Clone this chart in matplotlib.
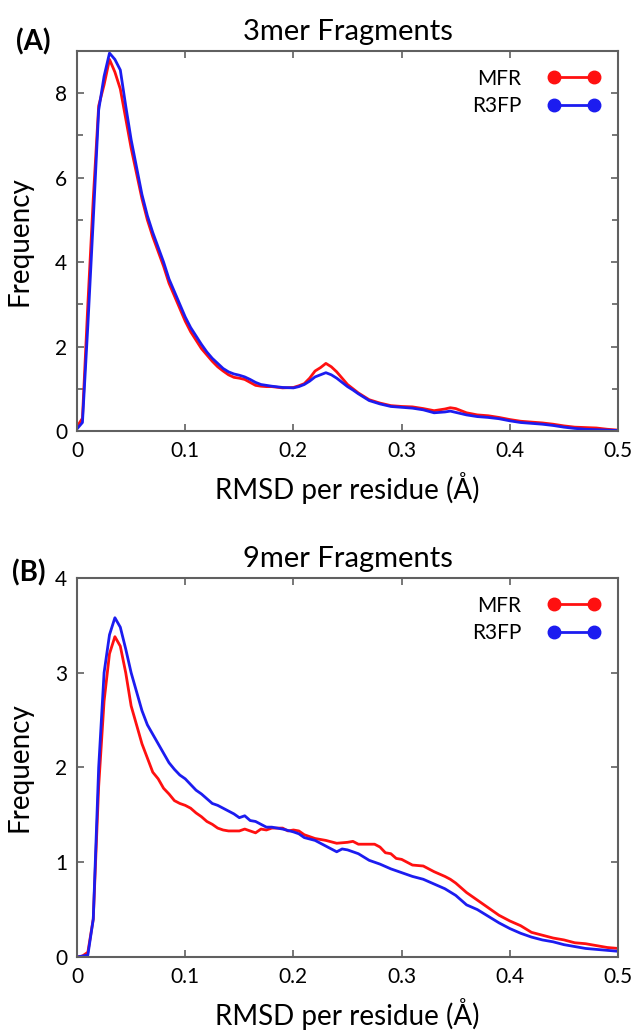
import matplotlib.pyplot as plt
import matplotlib as mpl
import numpy as np

# %% data
x_a_mfr = [0, .005, .01, .015, .02, .025, .03, .035, .04, .045, .05, .055, .06, .065, .07,
           .075, .08, .085, .09, .095, .1, .105, .11, .115, .12, .125, .13, .135, .14, .145,
           .15, .155, .16, .165, .17, .175, .18, .19, .2, .205, .21, .215, .22, .225, .23,
           .235, .24, .245, .25, .255, .26, .265, .27, .28, .29, .3, .31, .32, .33, .34,
           .345, .35, .36, .37, .38, .39, .4, .41, .42, .43, .44, .45, .46, .47, .48, .49, .5]
y_a_mfr = [0.1, 0.3, 3.0, 5.5, 7.7, 8.2, 8.8, 8.5, 8.1, 7.4, 6.7, 6.1, 5.5, 5.0, 4.6,
           4.25, 3.9, 3.5, 3.2, 2.9, 2.6, 2.35, 2.15, 1.95, 1.8, 1.65, 1.52, 1.42, 1.33, 1.27,
           1.25, 1.22, 1.15, 1.08, 1.06, 1.05, 1.05, 1.02, 1.03, 1.07, 1.12, 1.25, 1.42, 1.5, 1.6,
           1.52, 1.4, 1.25, 1.1, 1.0, 0.9, 0.82, 0.74, 0.66, 0.6, 0.58, 0.57, 0.53, 0.48, 0.52,
           0.55, 0.53, 0.43, 0.38, 0.36, 0.32, 0.27, 0.23, 0.21, 0.19, 0.16, 0.12, 0.09, 0.08, 0.07, 0.04, 0.02]

x_a_r3fp = [0, .005, .01, .015, .02, .025, .03, .035, .04, .045, .05, .055, .06, .065, .07,
            .075, .08, .085, .09, .095, .1, .105, .11, .115, .12, .125, .13, .135, .14, .145,
            .15, .155, .16, .165, .17, .18, .19, .2, .205, .21, .215, .22, .225, .23,
            .235, .24, .245, .25, .255, .26, .265, .27, .28, .29, .3, .31, .32, .33, .34,
            .345, .35, .36, .37, .38, .39, .4, .41, .42, .43, .44, .45, .46, .47, .48, .49, .5]
y_a_r3fp = [0.05, 0.2, 2.5, 5.0, 7.6, 8.4, 8.95, 8.8, 8.55, 7.7, 6.9, 6.25, 5.6, 5.1, 4.7,
            4.35, 4.0, 3.6, 3.3, 3.0, 2.7, 2.45, 2.25, 2.05, 1.87, 1.72, 1.6, 1.48, 1.4, 1.35,
            1.32, 1.28, 1.22, 1.15, 1.1, 1.06, 1.03, 1.02, 1.05, 1.1, 1.18, 1.28, 1.33, 1.38,
            1.33, 1.25, 1.15, 1.05, 0.97, 0.88, 0.8, 0.72, 0.64, 0.58, 0.56, 0.54, 0.5, 0.43, 0.45,
            0.47, 0.44, 0.38, 0.34, 0.32, 0.29, 0.24, 0.2, 0.18, 0.16, 0.13, 0.09, 0.06, 0.04, 0.03, 0.02, 0.01]

x_b_mfr = [0, .005, .01, .015, .02, .025, .03, .035, .04, .045, .05, .055, .06, .065, .07,
           .075, .08, .085, .09, .095, .1, .105, .11, .115, .12, .125, .13, .135, .14, .15,
           .155, .16, .165, .17, .175, .18, .19, .195, .2, .205, .21, .22, .23, .24, .25,
           .255, .26, .27, .275, .28, .285, .29, .295, .3, .31, .32, .33, .34, .345, .35,
           .36, .37, .38, .39, .4, .41, .42, .43, .44, .45, .46, .47, .48, .49, .5]
y_b_mfr = [0, 0.01, 0.05, 0.4, 1.8, 2.7, 3.2, 3.38, 3.28, 3.0, 2.65, 2.45, 2.25, 2.1, 1.95,
           1.88, 1.78, 1.72, 1.65, 1.62, 1.6, 1.57, 1.52, 1.48, 1.43, 1.4, 1.36, 1.34, 1.33, 1.33,
           1.35, 1.33, 1.31, 1.35, 1.34, 1.36, 1.36, 1.33, 1.34, 1.33, 1.29, 1.25, 1.23, 1.2, 1.21,
           1.22, 1.19, 1.19, 1.19, 1.16, 1.1, 1.09, 1.04, 1.03, 0.97, 0.96, 0.9, 0.85, 0.82, 0.78,
           0.68, 0.6, 0.52, 0.44, 0.38, 0.33, 0.26, 0.23, 0.2, 0.18, 0.15, 0.14, 0.12, 0.1, 0.09]

x_b_r3fp = [0, .005, .01, .015, .02, .025, .03, .035, .04, .045, .05, .055, .06, .065, .07,
            .075, .08, .085, .09, .095, .1, .105, .11, .115, .12, .125, .13, .135, .14, .145,
            .15, .155, .16, .165, .17, .175, .18, .19, .2, .205, .21, .22, .23, .24, .245,
            .25, .26, .27, .28, .29, .3, .31, .32, .33, .34, .35, .36, .37, .38, .39,
            .4, .41, .42, .43, .44, .45, .46, .47, .48, .49, .5]
y_b_r3fp = [0, 0.01, 0.02, 0.4, 2.0, 3.0, 3.4, 3.58, 3.48, 3.25, 3.0, 2.8, 2.6, 2.45, 2.35,
            2.25, 2.15, 2.05, 1.98, 1.92, 1.88, 1.82, 1.76, 1.72, 1.67, 1.62, 1.6, 1.57, 1.54, 1.51,
            1.47, 1.49, 1.44, 1.43, 1.4, 1.37, 1.37, 1.35, 1.32, 1.3, 1.26, 1.23, 1.17, 1.11, 1.14,
            1.13, 1.09, 1.02, 0.98, 0.93, 0.89, 0.85, 0.82, 0.77, 0.72, 0.65, 0.55, 0.5, 0.43, 0.36,
            0.3, 0.25, 0.21, 0.18, 0.16, 0.13, 0.11, 0.09, 0.08, 0.07, 0.06]

panel_titles = ['3mer Fragments', '9mer Fragments']
panel_tags = ['(A)', '(B)']
series_names = ['MFR', 'R3FP']

# %% style
plt.rcParams['font.family'] = ['Lato', 'DejaVu Sans']
mfr_col = '#ff1010'
r3fp_col = '#1c1cf0'
frame_col = '#606060'

fig = plt.figure(figsize=(6.34, 10.30), dpi=100)
ax_a = fig.add_axes([0.1215, 0.5816, 0.8533, 0.3689])
ax_b = fig.add_axes([0.1215, 0.0709, 0.8533, 0.3680])

panels = [
    (ax_a, x_a_mfr, y_a_mfr, x_a_r3fp, y_a_r3fp, 9, [0, 2, 4, 6, 8], 1),
    (ax_b, x_b_mfr, y_b_mfr, x_b_r3fp, y_b_r3fp, 4, [0, 1, 2, 3, 4], None),
]

for i, (ax, xm, ym, xr, yr, ytop, yticks, yminor) in enumerate(panels):
    ax.plot(xm, ym, color=mfr_col, lw=2)
    ax.plot(xr, yr, color=r3fp_col, lw=2)
    ax.set_xlim(0, 0.5)
    ax.set_ylim(0, ytop)
    ax.set_xticks([0, 0.1, 0.2, 0.3, 0.4, 0.5])
    ax.set_xticklabels(['0', '0.1', '0.2', '0.3', '0.4', '0.5'])
    ax.set_yticks(yticks)
    if yminor:
        ax.yaxis.set_minor_locator(mpl.ticker.MultipleLocator(yminor))
    ax.tick_params(which='both', direction='in', top=True, right=True,
                   color=frame_col, labelsize=15, pad=7)
    ax.tick_params(which='major', length=5, width=1.2)
    ax.tick_params(which='minor', length=4, width=1.2)
    for s in ax.spines.values():
        s.set_color(frame_col)
        s.set_linewidth(1.5)
    ax.set_xlabel('RMSD per residue (Å)', fontsize=20, labelpad=8)
    ax.set_ylabel('Frequency', fontsize=20, labelpad=16)
    ax.set_title(panel_titles[i], fontsize=21, pad=8)

    # legend with a dot at each end of the line, gnuplot style
    hm, = ax.plot([], [], color=mfr_col, lw=2, marker='o', ms=9)
    hr, = ax.plot([], [], color=r3fp_col, lw=2, marker='o', ms=9)
    ax.legend([hm, hr], series_names, loc='upper right', frameon=False,
              markerfirst=False, numpoints=2, handlelength=2.5, fontsize=15,
              borderaxespad=0.45, labelspacing=0.35, handletextpad=1.3)

fig.text(0.026, 0.959, panel_tags[0], fontsize=20, fontweight='bold', va='center')
fig.text(0.019, 0.4437, panel_tags[1], fontsize=20, fontweight='bold', va='center')

fig.savefig('out.png', dpi=100)
